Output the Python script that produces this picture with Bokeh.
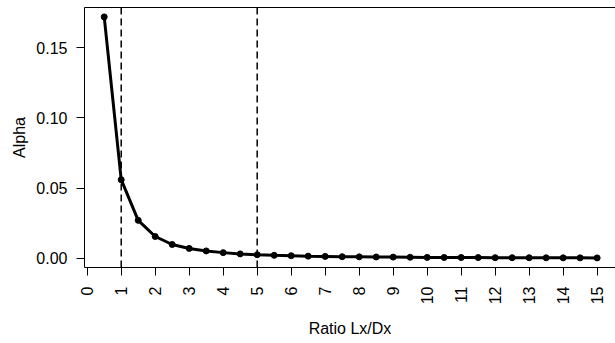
import math
from bokeh.plotting import figure
from bokeh.models import (LinearAxis, FixedTicker, PrintfTickFormatter, Span,
                          Range1d, ColumnDataSource)
from bokeh.embed import file_html
from bokeh.resources import INLINE

# ---- data ----
ratio = [0.5, 1.0, 1.5, 2.0, 2.5, 3.0, 3.5, 4.0, 4.5, 5.0,
         5.5, 6.0, 6.5, 7.0, 7.5, 8.0, 8.5, 9.0, 9.5, 10.0,
         10.5, 11.0, 11.5, 12.0, 12.5, 13.0, 13.5, 14.0, 14.5, 15.0]
alpha = [0.172, 0.056, 0.027, 0.0155, 0.0098, 0.0070, 0.0052, 0.0040, 0.0031, 0.0025,
         0.0021, 0.0018, 0.0015, 0.0013, 0.0011, 0.0010, 0.0009, 0.0008, 0.0007, 0.0006,
         0.00055, 0.0005, 0.00045, 0.0004, 0.00037, 0.00034, 0.00031, 0.00028, 0.00026, 0.00024]
vlines = [1, 5]
x_ticks = list(range(0, 16))
y_ticks = [0.0, 0.05, 0.10, 0.15]
x_title = "Ratio Lx/Dx"
y_title = "Alpha"

FONT = "Liberation Sans"
FS = "16px"

p = figure(width=615, height=343, output_backend="svg", toolbar_location=None,
           x_range=Range1d(-0.08, 15.54), y_range=Range1d(-0.0066, 0.1787),
           min_border_left=84, min_border_right=0, min_border_top=7,
           min_border_bottom=76, x_axis_location=None, y_axis_location=None)
p.outline_line_color = None
p.xgrid.visible = False
p.ygrid.visible = False
p.background_fill_color = "white"
p.border_fill_color = "white"

xa = LinearAxis(ticker=FixedTicker(ticks=x_ticks), axis_label=x_title)
ya = LinearAxis(ticker=FixedTicker(ticks=y_ticks), axis_label=y_title,
                formatter=PrintfTickFormatter(format="%.2f"))
for ax in (xa, ya):
    ax.axis_line_color = "black"
    ax.axis_line_width = 1
    ax.major_tick_line_color = "black"
    ax.major_tick_out = 8
    ax.major_tick_in = 0
    ax.minor_tick_line_color = None
    ax.major_label_text_font = FONT
    ax.major_label_text_font_size = FS
    ax.major_label_text_color = "black"
    ax.axis_label_text_font = FONT
    ax.axis_label_text_font_size = FS
    ax.axis_label_text_font_style = "normal"
    ax.axis_label_text_color = "black"
xa.major_label_orientation = math.pi / 2
xa.major_label_standoff = 11
xa.axis_label_standoff = 13
ya.major_label_standoff = 9
ya.axis_label_standoff = 5
p.add_layout(xa, "below")
p.add_layout(ya, "left")

top = LinearAxis(ticker=FixedTicker(ticks=[]))
top.axis_line_color = "black"
top.major_tick_out = 0
top.major_tick_in = 0
top.minor_tick_line_color = None
top.major_label_text_font_size = "0px"
top.major_label_standoff = 0
p.add_layout(top, "above")

for v in vlines:
    p.add_layout(Span(location=v, dimension="height", line_color="black",
                      line_width=1.5, line_dash="7 4"))

src = ColumnDataSource(dict(x=ratio, y=alpha))
p.line("x", "y", source=src, line_color="black", line_width=3)
p.scatter("x", "y", source=src, size=6, color="black")

open("out.html", "w").write(file_html(p, INLINE))
